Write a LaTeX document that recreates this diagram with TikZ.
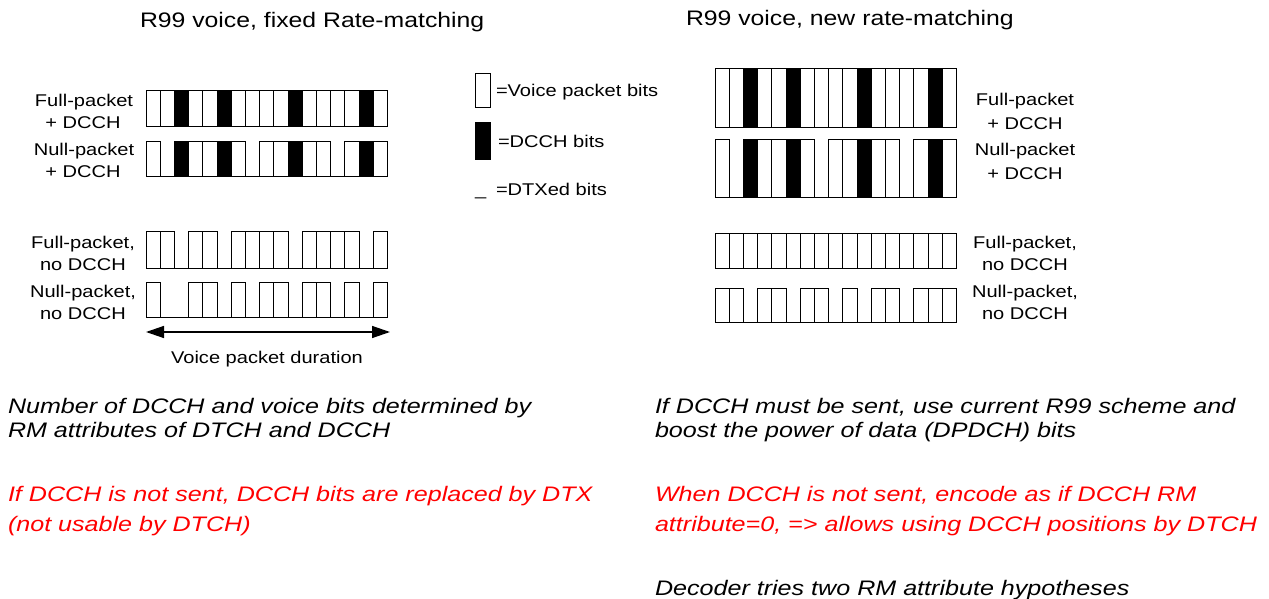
\documentclass[tikz,border=0pt]{standalone}
\usepackage{fontspec}
\setmainfont{Liberation Sans}
\usetikzlibrary{arrows.meta}

% width of one bit cell
\def\cw{14.2}

% one row of 17 bit cells: x0, top, bottom, codes (0 = DTX, 1 = voice, 2 = DCCH)
\newcommand{\bitrow}[4]{%
  \draw[cellline] (#1,#3) -- ({#1+17*\cw},#3);
  \foreach \t [count=\i from 0] in {#4} {%
    \ifnum\t>0
      \ifnum\t=2 \def\cellfill{black}\else\def\cellfill{white}\fi
      \draw[cellline, fill=\cellfill] ({#1+\i*\cw},#2) rectangle ({#1+(\i+1)*\cw},#3);
    \fi
  }%
}

\tikzset{
  cellline/.style={draw=black, line width=1pt},
  stretched/.style={xscale=1.18, inner sep=0pt, outer sep=0pt},
  title/.style={stretched, anchor=base west, font=\fontsize{21}{25}\selectfont},
  rowlabel/.style={stretched, anchor=base, font=\fontsize{17}{20}\selectfont},
  legendtext/.style={stretched, anchor=base west, font=\fontsize{17}{20}\selectfont},
  note/.style={stretched, xscale=1.013, anchor=base west, font=\fontsize{21}{25}\selectfont\itshape},
  rednote/.style={note, text=red},
  span/.style={{Triangle[length=18pt,width=12pt]}-{Triangle[length=18pt,width=12pt]}, line width=1.4pt},
}

\begin{document}
\begin{tikzpicture}[x=1pt, y=-1pt]
\path[use as bounding box] (0,0) rectangle (1269,599);

% ---- titles
\node[title] (titleL) at (140,28) {R99 voice, fixed Rate-matching};
\node[title] (titleR) at (686,26) {R99 voice, new rate-matching};

% ---- fixed rate-matching rows
\bitrow{146}{91}{127}{1,1,2,1,1,2,1,1,1,1,2,1,1,1,1,2,1}
\bitrow{146}{142}{176}{1,0,2,1,1,2,1,0,1,1,2,1,1,0,1,2,1}
\bitrow{146}{231}{268}{1,1,0,1,1,0,1,1,1,1,0,1,1,1,1,0,1}
\bitrow{146}{282}{317}{1,0,0,1,1,0,1,0,1,1,0,1,1,0,1,0,1}

\node[rowlabel] (lA1) at (84,107) {Full-packet};
\node[rowlabel] (lA2) at (83,129) {+ DCCH};
\node[rowlabel] (lB1) at (84,156) {Null-packet};
\node[rowlabel] (lB2) at (83,178) {+ DCCH};
\node[rowlabel] (lC1) at (83,248) {Full-packet,};
\node[rowlabel] (lC2) at (83,270) {no DCCH};
\node[rowlabel] (lD1) at (83,297) {Null-packet,};
\node[rowlabel] (lD2) at (83,319) {no DCCH};

% ---- packet duration
\coordinate (durL) at (146,332);
\coordinate (durR) at (390,332);
\draw[span] (durL) -- (durR);
\node[rowlabel] (durText) at (267,363) {Voice packet duration};

% ---- legend
\draw[cellline, fill=white] (475,74) rectangle (490,108);
\node[legendtext] (legVoice) at (496,97) {=Voice packet bits};
\draw[cellline, fill=black] (475,123) rectangle (490,160);
\node[legendtext] (legDcch) at (498,147) {=DCCH bits};
\node[legendtext] (legDtxMark) at (475,195) {\_};
\node[legendtext] (legDtx) at (496,195) {=DTXed bits};

% ---- new rate-matching rows
\bitrow{715}{69}{128}{1,1,2,1,1,2,1,1,1,1,2,1,1,1,1,2,1}
\bitrow{715}{140}{197}{1,0,2,1,1,2,1,0,1,1,2,1,1,0,1,2,1}
\bitrow{715}{233}{268}{1,1,1,1,1,1,1,1,1,1,1,1,1,1,1,1,1}
\bitrow{715}{288}{322}{1,1,0,1,1,0,1,1,0,1,0,1,1,0,1,1,1}

\node[rowlabel] (rA1) at (1025,106) {Full-packet};
\node[rowlabel] (rA2) at (1025,130) {+ DCCH};
\node[rowlabel] (rB1) at (1025,156) {Null-packet};
\node[rowlabel] (rB2) at (1025,179) {+ DCCH};
\node[rowlabel] (rC1) at (1025,248) {Full-packet,};
\node[rowlabel] (rC2) at (1025,270) {no DCCH};
\node[rowlabel] (rD1) at (1025,297) {Null-packet,};
\node[rowlabel] (rD2) at (1025,319) {no DCCH};

% ---- notes
\node[note] (nL1) at (8,413) {Number of DCCH and voice bits determined by};
\node[note] (nL2) at (8,437) {RM attributes of DTCH and DCCH};
\node[rednote] (nL3) at (8,501) {If DCCH is not sent, DCCH bits are replaced by DTX};
\node[rednote] (nL4) at (8,531) {(not usable by DTCH)};

\node[note] (nR1) at (655,413) {If DCCH must be sent, use current R99 scheme and};
\node[note] (nR2) at (655,437) {boost the power of data (DPDCH) bits};
\node[rednote] (nR3) at (655,501) {When DCCH is not sent, encode as if DCCH RM};
\node[rednote] (nR4) at (655,531) {attribute=0, => allows using DCCH positions by DTCH};
\node[note] (nR5) at (655,595) {Decoder tries two RM attribute hypotheses};
\end{tikzpicture}
\end{document}
